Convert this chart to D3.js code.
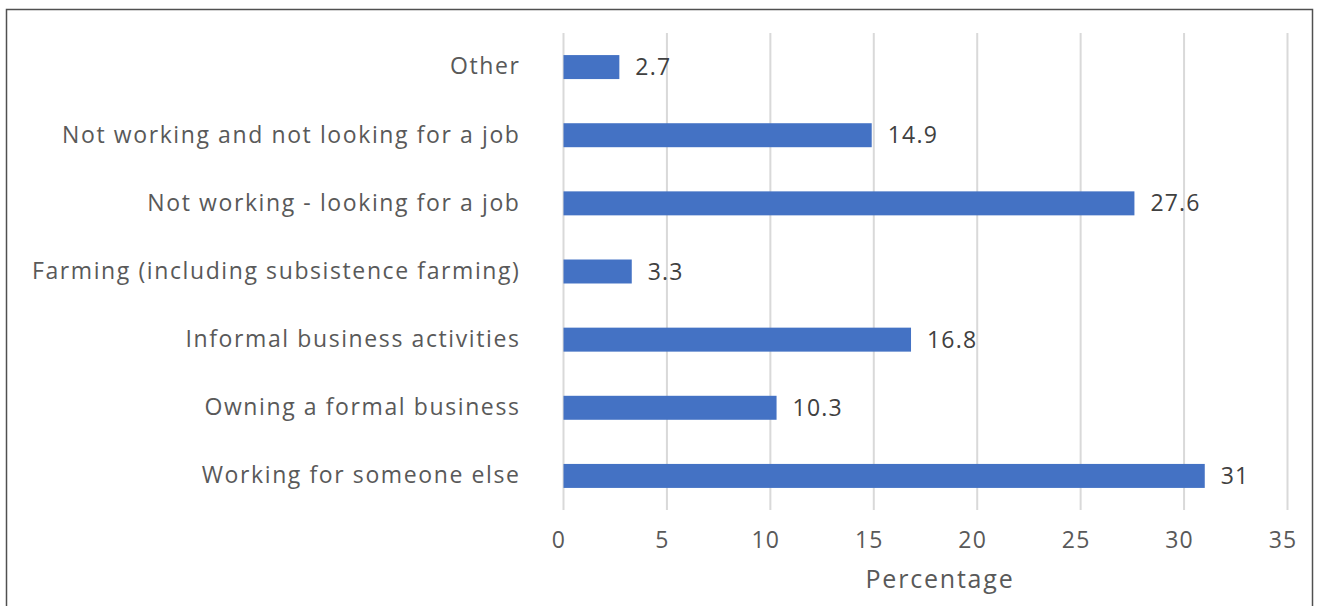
<!DOCTYPE html>
<html>
<head>
<meta charset="utf-8">
<script src="https://cdn.jsdelivr.net/npm/d3@7"></script>
<style>
  html, body { margin: 0; padding: 0; background: #fff; }
  svg { display: block; }
  text { font-family: "Open Sans", "Lato", sans-serif; }
</style>
</head>
<body>
<svg id="chart" width="1317" height="606"></svg>
<script>
// Main activity of respondents (percentage)
const categories = [
  "Other",
  "Not working and not looking for a job",
  "Not working - looking for a job",
  "Farming (including subsistence farming)",
  "Informal business activities",
  "Owning a formal business",
  "Working for someone else"
];
const values = [2.7, 14.9, 27.6, 3.3, 16.8, 10.3, 31];
const tickValues = [0, 5, 10, 15, 20, 25, 30, 35];
const axisTitle = "Percentage";

const svg = d3.select("#chart");
const W = 1317, H = 606;
const margin = { top: 33, right: 29.5, bottom: 96, left: 563.5 };

// outer frame
svg.append("rect")
  .attr("x", 6.5).attr("y", 9.5)
  .attr("width", 1306).attr("height", 620)
  .attr("fill", "#fff")
  .attr("stroke", "#505050")
  .attr("stroke-width", 1.5);

const x = d3.scaleLinear()
  .domain([0, 35])
  .range([margin.left, W - margin.right]);

const y = d3.scaleBand()
  .domain(categories)
  .range([margin.top, H - margin.bottom])
  .paddingInner(0.648)
  .paddingOuter(0.324);

// vertical gridlines
svg.append("g")
  .selectAll("line")
  .data(tickValues)
  .join("line")
  .attr("x1", d => x(d)).attr("x2", d => x(d))
  .attr("y1", margin.top).attr("y2", H - margin.bottom)
  .attr("stroke", "#d9d9d9")
  .attr("stroke-width", 2);

// bottom axis tick labels
const xAxis = d3.axisBottom(x)
  .tickValues(tickValues)
  .tickSize(0)
  .tickPadding(0)
  .tickFormat(d3.format("d"));
const gx = svg.append("g")
  .attr("transform", `translate(-5,${H - margin.bottom + 22})`)
  .call(xAxis);
gx.select(".domain").remove();
gx.selectAll("text")
  .attr("fill", "#595959")
  .attr("font-size", 23)
  .attr("letter-spacing", 1.2)
  .attr("font-family", "'Open Sans', sans-serif");

// category labels
const yAxis = d3.axisLeft(y).tickSize(0).tickPadding(43);
const gy = svg.append("g")
  .attr("transform", `translate(${margin.left},0)`)
  .call(yAxis);
gy.select(".domain").remove();
gy.selectAll("text")
  .attr("fill", "#595959")
  .attr("font-size", 23)
  .attr("letter-spacing", 1.6)
  .attr("font-family", "'Open Sans', sans-serif");

// bars
svg.append("g")
  .selectAll("rect")
  .data(categories)
  .join("rect")
  .attr("x", x(0))
  .attr("y", d => y(d))
  .attr("width", (d, i) => x(values[i]) - x(0))
  .attr("height", y.bandwidth())
  .attr("fill", "#4472c4");

// value labels
svg.append("g")
  .selectAll("text")
  .data(categories)
  .join("text")
  .attr("x", (d, i) => x(values[i]) + 16)
  .attr("y", d => y(d) + y.bandwidth() / 2)
  .attr("dy", "0.35em")
  .attr("fill", "#404040")
  .attr("font-size", 23)
  .attr("letter-spacing", 1.2)
  .text((d, i) => values[i]);

// axis title
svg.append("text")
  .attr("x", 940)
  .attr("y", 588)
  .attr("text-anchor", "middle")
  .attr("fill", "#595959")
  .attr("font-size", 25)
  .attr("letter-spacing", 1.8)
  .text(axisTitle);
</script>
</body>
</html>
